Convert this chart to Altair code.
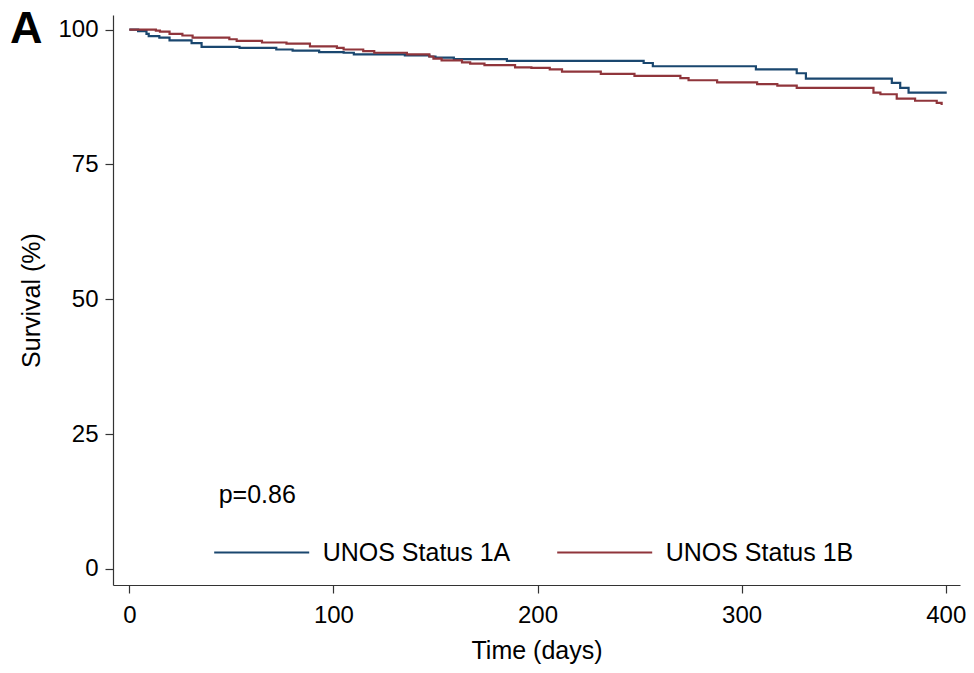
import altair as alt
import pandas as pd

groups = ["UNOS Status 1A", "UNOS Status 1B"]
colors = ["#1a476f", "#90353b"]

t_1a = [0, 4.3, 8.4, 9.5, 14.7, 19.7, 30.5, 35.4, 54, 72, 80, 93, 105, 110, 135,
        147, 150, 159, 185, 252, 256.5, 307, 327, 331.5, 373.6, 377.7, 381.8, 400.5]
s_1a = [100, 99.7, 99.2, 98.8, 98.5, 98.0, 97.5, 96.8, 96.6, 96.3, 96.1, 95.8, 95.7, 95.4, 95.2,
        95.0, 94.8, 94.5, 94.2, 93.8, 93.2, 92.6, 91.9, 90.9, 90.1, 89.2, 88.3, 88.3]

t_1b = [0, 13, 15, 19.7, 26, 31, 49, 52.6, 65, 77, 88.5, 101.7, 105, 114.6, 120,
        136, 147, 149, 153, 163, 167, 174, 189, 197, 206, 212, 231, 247.5, 270, 274,
        288, 307.6, 317.5, 327, 364.6, 368, 376, 385, 395.6, 398]
s_1b = [100, 99.8, 99.6, 99.2, 98.9, 98.5, 98.2, 97.9, 97.6, 97.4, 96.9, 96.6, 96.3, 96.0, 95.7,
        95.4, 95.0, 94.6, 94.3, 93.9, 93.7, 93.4, 93.0, 92.9, 92.6, 92.2, 91.8, 91.4, 91.0, 90.6,
        90.2, 89.9, 89.6, 89.2, 88.3, 88.0, 87.2, 86.8, 86.4, 86.0]

x_ticks = [0, 100, 200, 300, 400]
y_ticks = [0, 25, 50, 75, 100]
p_text = ["p=0.86"]
panel_letter = ["A"]

rows = []
for t, s in zip(t_1a, s_1a):
    rows.append({"time": t, "surv": s, "group": groups[0]})
for t, s in zip(t_1b, s_1b):
    rows.append({"time": t, "surv": s, "group": groups[1]})
df = pd.DataFrame(rows)

FONT = "Liberation Sans, Arial, sans-serif"
FS = 25

lines = alt.Chart(df).mark_line(interpolate="step-after", strokeWidth=2.2).encode(
    x=alt.X("time:Q",
            scale=alt.Scale(domain=[-8, 407], nice=False, zero=False),
            axis=alt.Axis(values=x_ticks, title="Time (days)", format="d",
                          labelPadding=10, titlePadding=11)),
    y=alt.Y("surv:Q",
            scale=alt.Scale(domain=[-3, 102.7], nice=False, zero=False),
            axis=alt.Axis(values=y_ticks, title="Survival (%)", format="d",
                          labelPadding=7, titlePadding=13)),
    color=alt.Color("group:N",
                    scale=alt.Scale(domain=groups, range=colors),
                    legend=alt.Legend(orient="none", legendX=99.7, legendY=488.5,
                                      direction="horizontal", title=None,
                                      symbolType="stroke", symbolSize=9025,
                                      symbolStrokeWidth=2.2, labelFontSize=FS,
                                      labelFont=FONT, labelColor="#000", labelLimit=0,
                                      labelOffset=12, columnPadding=42, padding=0)),
    detail="group:N",
)

pval = alt.Chart(pd.DataFrame({"t": p_text})).mark_text(
    align="left", baseline="alphabetic", fontSize=FS, font=FONT, color="#000"
).encode(x=alt.value(105.7), y=alt.value(488.3), text="t:N")

letter = alt.Chart(pd.DataFrame({"t": panel_letter})).mark_text(
    align="left", baseline="alphabetic", fontSize=45, fontWeight="bold", font=FONT, color="#000"
).encode(x=alt.value(-103), y=alt.value(28), text="t:N")

chart = alt.layer(lines, pval, letter).properties(
    width=847, height=570,
    autosize=alt.AutoSizeParams(type="none"),
    padding={"left": 105, "top": 7, "right": 6, "bottom": 80},
).configure_view(stroke=None).configure_axis(
    grid=False,
    domainColor="#333", domainWidth=1.2,
    tickColor="#333", tickSize=8, tickWidth=1.2,
    labelFont=FONT, labelFontSize=24, labelColor="#000",
    titleFont=FONT, titleFontSize=FS, titleColor="#000", titleFontWeight="normal",
)

chart.save("out.html", embed_options={"renderer": "svg", "actions": False})
